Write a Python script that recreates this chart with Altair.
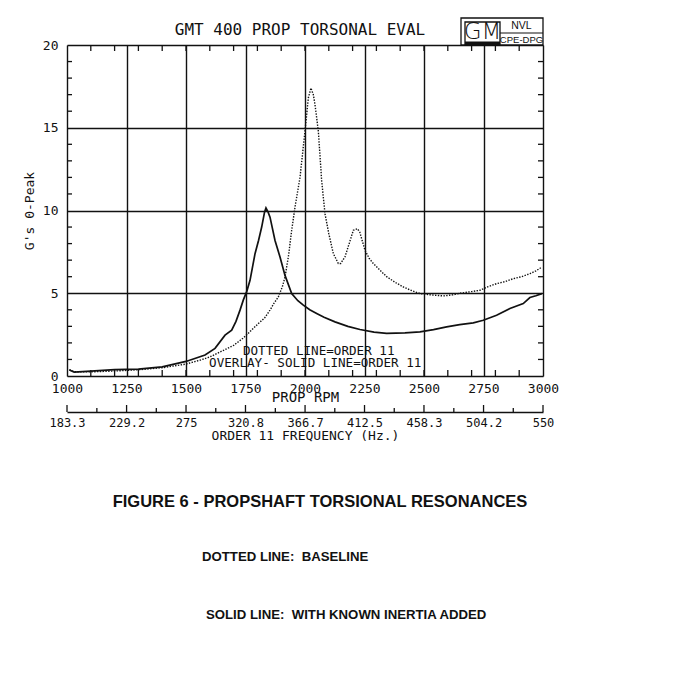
import altair as alt
import pandas as pd

# ---------------- data ----------------
rpm_dotted = [1010, 1030, 1100, 1200, 1300, 1400, 1500, 1560, 1600, 1643, 1700, 1741, 1770,
              1804, 1830, 1853, 1870, 1888, 1905, 1916, 1930, 1944, 1958, 1979, 2000, 2014,
              2025, 2035, 2042, 2056, 2070, 2084, 2100, 2119, 2140, 2150, 2168, 2190, 2203,
              2220, 2230, 2252, 2270, 2287, 2315, 2343, 2380, 2413, 2450, 2483, 2530, 2581,
              2620, 2651, 2700, 2735, 2770, 2805, 2840, 2875, 2910, 2945, 2970, 2995]
g_dotted = [0.38, 0.26, 0.25, 0.3, 0.38, 0.5, 0.72, 0.96, 1.15, 1.45, 1.85, 2.3, 2.7,
            3.17, 3.5, 3.98, 4.4, 4.78, 5.4, 5.98, 7.19, 8.8, 10.2, 12.0, 14.8, 16.8,
            17.4, 17.0, 16.4, 14.8, 11.8, 9.8, 8.6, 7.4, 6.8, 6.8, 7.2, 8.2, 8.8,
            8.9, 8.7, 7.6, 7.1, 6.8, 6.4, 6.0, 5.65, 5.38, 5.15, 4.98, 4.9, 4.84,
            4.9, 5.0, 5.1, 5.18, 5.4, 5.58, 5.7, 5.88, 6.0, 6.18, 6.35, 6.58]

rpm_solid = [1010, 1030, 1100, 1200, 1300, 1400, 1500, 1580, 1622, 1664, 1692, 1710, 1727,
             1741, 1755, 1769, 1790, 1805, 1818, 1830, 1836, 1845, 1853, 1874, 1895, 1916,
             1944, 1970, 1993, 2020, 2049, 2080, 2126, 2180, 2231, 2290, 2343, 2420, 2483,
             2540, 2595, 2650, 2707, 2749, 2805, 2861, 2917, 2945, 2970, 2995]
g_solid = [0.36, 0.24, 0.3, 0.38, 0.42, 0.55, 0.88, 1.27, 1.67, 2.47, 2.77, 3.3, 3.98,
           4.6, 5.1, 5.78, 7.39, 8.2, 9.0, 9.9, 10.16, 9.9, 9.6, 8.19, 7.19, 6.08,
           4.98, 4.55, 4.28, 4.0, 3.78, 3.55, 3.27, 3.0, 2.81, 2.65, 2.57, 2.6, 2.67,
           2.8, 2.97, 3.1, 3.21, 3.37, 3.67, 4.08, 4.38, 4.74, 4.85, 4.98]

x_labels = [1000, 1250, 1500, 1750, 2000, 2250, 2500, 2750, 3000]
y_labels = [0, 5, 10, 15, 20]
rpm_minor = [1100, 1200, 1300, 1400, 1500, 1600, 1700, 1800, 1900, 2000,
             2100, 2200, 2300, 2400, 2500, 2600, 2700, 2800, 2900]
g_minor = [1, 2, 3, 4, 6, 7, 8, 9, 11, 12, 13, 14, 16, 17, 18, 19]
hz_labels = [183.3, 229.2, 275, 320.8, 366.7, 412.5, 458.3, 504.2, 550]
hz_minor = [206.3, 252.1, 297.9, 343.8, 389.6, 435.4, 481.3, 527.1]

legend_lines = ["DOTTED LINE=ORDER 11", "OVERLAY- SOLID LINE=ORDER 11"]
legend_rpm = [1739, 1597]
legend_g = [1.5, 0.8]

W, H = 476, 331
FONT = "DejaVu Sans Mono"
INK = "#111111"

df_d = pd.DataFrame({"rpm": rpm_dotted, "g": g_dotted})
df_s = pd.DataFrame({"rpm": rpm_solid, "g": g_solid})
df_xm = pd.DataFrame({"rpm": rpm_minor})
df_ym = pd.DataFrame({"g": g_minor})
df_leg = pd.DataFrame({"rpm": legend_rpm, "g": legend_g, "t": legend_lines})
one = pd.DataFrame({"k": [0]})

x_scale = alt.Scale(domain=[1000, 3000], nice=False, zero=False)
y_scale = alt.Scale(domain=[0, 20], nice=False)

x_axis = alt.Axis(values=x_labels, grid=True, gridColor=INK, gridWidth=1.4, gridOpacity=1,
                  ticks=False, domain=False, labelFont=FONT, labelFontSize=13, labelColor=INK,
                  labelPadding=6, labelFlush=False, format="d", title="PROP RPM", titleFont=FONT,
                  titleFontSize=14, titleFontWeight="normal", titleColor=INK, titlePadding=-5)
y_axis = alt.Axis(values=y_labels, grid=True, gridColor=INK, gridWidth=1.4, gridOpacity=1,
                  ticks=False, domain=False, labelFont=FONT, labelFontSize=13, labelColor=INK,
                  labelPadding=9, labelFlush=False, title="G's 0-Peak", titleFont=FONT,
                  titleFontSize=13, titleFontWeight="normal", titleColor=INK, titlePadding=6)

dotted = alt.Chart(df_d).mark_line(color=INK, strokeWidth=1.4, strokeDash=[1.4, 1.4]).encode(
    x=alt.X("rpm:Q", scale=x_scale, axis=x_axis),
    y=alt.Y("g:Q", scale=y_scale, axis=y_axis),
)
solid = alt.Chart(df_s).mark_line(color=INK, strokeWidth=1.7).encode(x="rpm:Q", y="g:Q")

top_ticks = alt.Chart(df_xm).mark_rule(color=INK, strokeWidth=1.3).encode(
    x="rpm:Q", y=alt.value(0), y2=alt.value(6))
bot_ticks = alt.Chart(df_xm).mark_rule(color=INK, strokeWidth=1.3).encode(
    x="rpm:Q", y=alt.value(H), y2=alt.value(H - 6))
left_ticks = alt.Chart(df_ym).mark_rule(color=INK, strokeWidth=1.3).encode(
    y="g:Q", x=alt.value(0), x2=alt.value(5))
right_ticks = alt.Chart(df_ym).mark_rule(color=INK, strokeWidth=1.3).encode(
    y="g:Q", x=alt.value(W), x2=alt.value(W - 5))

legend = alt.Chart(df_leg).mark_text(font=FONT, fontSize=12.6, align="left", baseline="middle",
                                     color=INK).encode(x="rpm:Q", y="g:Q", text="t:N")

# chart heading
heading = alt.Chart(one).mark_text(font=FONT, fontSize=16, color=INK, baseline="middle").encode(
    x=alt.value(233), y=alt.value(-15), text=alt.value("GMT 400 PROP TORSONAL EVAL"))

# GM logo box
logo_outer = alt.Chart(one).mark_rect(fill="white", stroke=INK, strokeWidth=1.3).encode(
    x=alt.value(394), x2=alt.value(W), y=alt.value(-27), y2=alt.value(0))
logo_gm = alt.Chart(one).mark_rect(fill="white", stroke=INK, strokeWidth=1.3).encode(
    x=alt.value(398), x2=alt.value(433), y=alt.value(-23), y2=alt.value(0))
logo_bar = alt.Chart(one).mark_rect(fill=INK).encode(
    x=alt.value(398), x2=alt.value(433), y=alt.value(-3.5), y2=alt.value(0))
logo_line = alt.Chart(one).mark_rule(color=INK, strokeWidth=1).encode(
    x=alt.value(433), x2=alt.value(W), y=alt.value(-12))
logo_gm_t = alt.Chart(one).mark_text(font="DejaVu Sans", fontSize=23, fontWeight=200, color=INK,
                                     baseline="middle").encode(
    x=alt.value(415.5), y=alt.value(-13), text=alt.value("GM"))
logo_nvl = alt.Chart(one).mark_text(font="Liberation Sans Narrow, Liberation Sans", fontSize=10.5,
                                    color=INK, baseline="middle").encode(
    x=alt.value(454.5), y=alt.value(-19), text=alt.value("NVL"))
logo_cpe = alt.Chart(one).mark_text(font="Liberation Sans Narrow, Liberation Sans", fontSize=9.5,
                                    color=INK, baseline="middle").encode(
    x=alt.value(454.5), y=alt.value(-5.5), text=alt.value("CPE-DPG"))

# captions below
cap1 = alt.Chart(one).mark_text(font="Liberation Sans", fontSize=16.5, fontWeight="bold",
                                color=INK, baseline="middle").encode(
    x=alt.value(253), y=alt.value(457), text=alt.value("FIGURE 6 - PROPSHAFT TORSIONAL RESONANCES"))
cap2 = alt.Chart(one).mark_text(font="Liberation Sans", fontSize=13.2, fontWeight="bold",
                                color=INK, baseline="middle", align="left").encode(
    x=alt.value(135), y=alt.value(512), text=alt.value("DOTTED LINE:\u00a0 BASELINE"))
cap3 = alt.Chart(one).mark_text(font="Liberation Sans", fontSize=13.2, fontWeight="bold",
                                color=INK, baseline="middle", align="left").encode(
    x=alt.value(139), y=alt.value(570), text=alt.value("SOLID LINE:\u00a0 WITH KNOWN INERTIA ADDED"))

main = alt.layer(dotted, solid, top_ticks, bot_ticks, left_ticks, right_ticks, legend, heading,
                 logo_outer, logo_gm, logo_bar, logo_line, logo_gm_t, logo_nvl, logo_cpe,
                 cap1, cap2, cap3)

# secondary frequency axis (order 11: Hz = rpm * 11 / 60)
hz_scale = alt.Scale(domain=[183.3, 550], nice=False, zero=False)
hz_axis = alt.Axis(orient="bottom", offset=36, values=hz_labels, ticks=False, grid=False,
                   domain=True, domainColor=INK, domainWidth=1.3, labelFont=FONT,
                   labelFontSize=12, labelColor=INK, labelPadding=5, labelFlush=False,
                   labelOverlap=False, labelExpr="datum.value",
                   title="ORDER 11 FREQUENCY (Hz.)", titleFont=FONT, titleFontSize=13,
                   titleFontWeight="normal", titleColor=INK, titlePadding=1)
hz_major = alt.Chart(pd.DataFrame({"hz": hz_labels})).mark_rule(color=INK, strokeWidth=1.3).encode(
    x=alt.X("hz:Q", scale=hz_scale, axis=hz_axis), y=alt.value(H + 36), y2=alt.value(H + 36 - 7))
hz_min = alt.Chart(pd.DataFrame({"hz": hz_minor})).mark_rule(color=INK, strokeWidth=1.3).encode(
    x="hz:Q", y=alt.value(H + 36), y2=alt.value(H + 36 - 4))
hz_layer = alt.layer(hz_major, hz_min)

chart = alt.layer(main, hz_layer).resolve_scale(x="independent").properties(
    width=W, height=H,
    padding={"left": 59, "top": 37, "right": 140, "bottom": 280},
    autosize=alt.AutoSizeParams(type="none"),
).configure_view(stroke=INK, strokeWidth=1.5).configure(background="white")

chart.save("out.html", embed_options={"renderer": "svg", "actions": False})
